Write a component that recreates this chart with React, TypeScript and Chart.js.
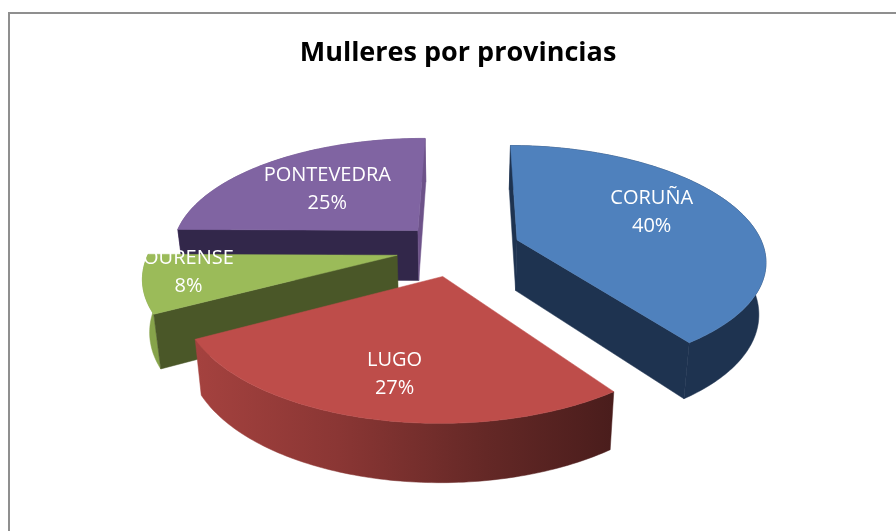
import React, { useEffect, useRef } from "react";
import { Chart, registerables } from "chart.js";

Chart.register(...registerables);

const provinces = ["CORUÑA", "LUGO", "OURENSE", "PONTEVEDRA"];
const shares = [40, 27, 8, 25];
const percentLabels = ["40%", "27%", "8%", "25%"];
const chartTitle = "Mulleres por provincias";

const topColors = ["#4f81bd", "#be4d4a", "#9bbb59", "#8064a2"];
const faceColors = ["#1e3350", "#4c1e1d", "#4a5728", "#32274a"];
const wallColors = ["#1e3350", "", "#86a34a", "#6d5289"];
const labelRadius = [0.64, 0.724, 0.824, 0.583];
const labelTurn = [-6.3, -0.5, 4, -0.5];
const explodeRatios = [0.258, 0.245, 0.247, 0.232];

const FONT = '"Open Sans"';
const RADIUS = 160;
const ROTATION = 0.5;
const VIEW = { x: 457, y: 248.5, sx: 247, sy: 112.5, k: 0.164, shrink: 0.977 };

type P = { x: number; y: number };

function project(U: number, V: number): P {
  const w = 1 - VIEW.k * V;
  return { x: VIEW.x + (U * VIEW.sx) / w, y: VIEW.y + (V * VIEW.sy) / w };
}

function drop(U: number, V: number): P {
  const w = 1 - VIEW.k * V;
  const p = project(U, V);
  return {
    x: VIEW.x + (p.x - VIEW.x) * VIEW.shrink,
    y: p.y + 50 + 40 * (1.03 - w),
  };
}

function fillPoly(ctx: CanvasRenderingContext2D, pts: P[], fill: string | CanvasGradient) {
  ctx.beginPath();
  pts.forEach((p, i) => (i ? ctx.lineTo(p.x, p.y) : ctx.moveTo(p.x, p.y)));
  ctx.closePath();
  ctx.fillStyle = fill;
  ctx.fill();
  ctx.strokeStyle = fill;
  ctx.lineWidth = 0.5;
  ctx.stroke();
}

const pie3d = {
  id: "pie3d",
  beforeDraw(chart: any) {
    const { ctx } = chart;
    ctx.save();
    ctx.fillStyle = "#ffffff";
    ctx.fillRect(0, 0, chart.width, chart.height);
    ctx.strokeStyle = "#8f8f8f";
    ctx.lineWidth = 2;
    ctx.strokeRect(9, 13, chart.width + 40, chart.height + 40);
    ctx.restore();
  },
  beforeDatasetDraw(chart: any) {
    const { ctx } = chart;
    const arcs = chart.getDatasetMeta(0).data.map((el: any, i: number) => {
      const mid = (el.startAngle + el.endAngle) / 2;
      const e = el.options.offset / el.outerRadius;
      return { el, i, mid, ou: e * Math.cos(mid), ov: e * Math.sin(mid) };
    });
    const order = [...arcs].sort((a: any, b: any) => Math.sin(a.mid) - Math.sin(b.mid));
    ctx.save();
    for (const a of order) {
      const { el, i, ou, ov } = a;
      const steps = Math.max(8, Math.round(((el.endAngle - el.startAngle) * 180) / Math.PI));
      const rim: [number, number][] = [];
      for (let s = 0; s <= steps; s++) {
        const t = el.startAngle + ((el.endAngle - el.startAngle) * s) / steps;
        rim.push([ou + Math.cos(t), ov + Math.sin(t)]);
      }
      const first = rim[0];
      const last = rim[rim.length - 1];
      // outer wall
      let wall: string | CanvasGradient = wallColors[i];
      if (!wall) {
        const g = ctx.createLinearGradient(193, 0, 612, 0);
        g.addColorStop(0, "#a5423f");
        g.addColorStop(0.35, "#8a3634");
        g.addColorStop(0.7, "#642826");
        g.addColorStop(1, "#4a1d1c");
        wall = g;
      }
      const wallPts = rim.map((r) => project(r[0], r[1])).concat(rim.slice().reverse().map((r) => drop(r[0], r[1])));
      fillPoly(ctx, wallPts, wall);
      // radial faces that look towards the viewer
      if (-Math.cos(el.startAngle) > -0.03) {
        fillPoly(ctx, [project(ou, ov), project(first[0], first[1]), drop(first[0], first[1]), drop(ou, ov)], faceColors[i]);
      }
      if (Math.cos(el.endAngle) > -0.03) {
        fillPoly(ctx, [project(ou, ov), project(last[0], last[1]), drop(last[0], last[1]), drop(ou, ov)], i === 3 ? wallColors[3] : faceColors[i]);
      }
      // top
      fillPoly(ctx, [project(ou, ov), ...rim.map((r) => project(r[0], r[1]))], topColors[i]);
    }
    // labels
    ctx.fillStyle = "#ffffff";
    ctx.font = `20px ${FONT}`;
    ctx.textAlign = "center";
    ctx.textBaseline = "middle";
    for (const a of arcs) {
      const t = a.mid + (labelTurn[a.i] * Math.PI) / 180;
      const r = labelRadius[a.i];
      const p = project(a.ou + r * Math.cos(t), a.ov + r * Math.sin(t));
      ctx.fillText(provinces[a.i], p.x, p.y - 14);
      ctx.fillText(percentLabels[a.i], p.x, p.y + 14);
    }
    ctx.restore();
    return false;
  },
};

export default function App() {
  const ref = useRef<HTMLCanvasElement>(null);
  useEffect(() => {
    const chart = new Chart(ref.current as HTMLCanvasElement, {
      type: "pie",
      plugins: [pie3d as any],
      data: {
        labels: provinces,
        datasets: [
          {
            data: shares,
            backgroundColor: topColors,
            borderWidth: 0,
            radius: RADIUS,
            rotation: ROTATION,
            offset: explodeRatios.map((r) => RADIUS * r),
          },
        ],
      },
      options: {
        animation: false,
        responsive: false,
        events: [],
        layout: { padding: { left: 20, top: 37 } },
        plugins: {
          legend: { display: false },
          tooltip: { enabled: false },
          title: {
            display: true,
            text: chartTitle,
            color: "#000000",
            font: { family: FONT, size: 27, weight: "bold" },
            padding: 0,
          },
        },
      },
    } as any);
    return () => chart.destroy();
  }, []);
  return (
    <div style={{ position: "absolute", left: 0, top: 0, width: 896, height: 531, overflow: "hidden" }}>
      <canvas ref={ref} width={896} height={531} style={{ display: "block" }} />
    </div>
  );
}
